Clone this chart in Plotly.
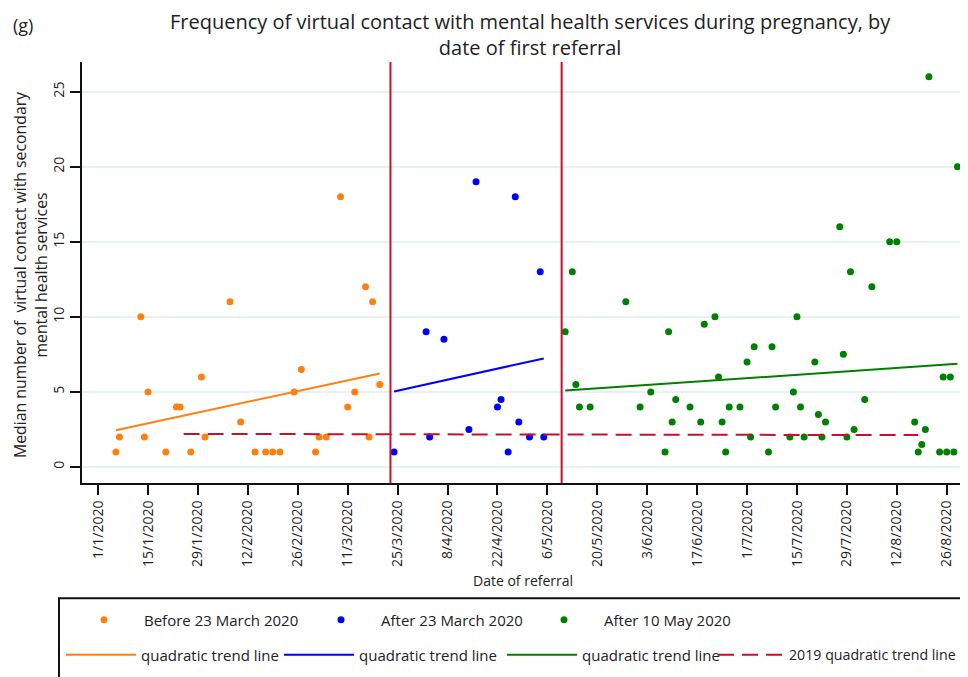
import plotly.graph_objects as go

# ---------------- data ----------------
orange_dates = ["2020-01-06", "2020-01-07", "2020-01-13", "2020-01-14", "2020-01-15",
                "2020-01-20", "2020-01-23", "2020-01-24", "2020-01-27", "2020-01-30",
                "2020-01-31", "2020-02-07", "2020-02-10", "2020-02-14", "2020-02-17",
                "2020-02-19", "2020-02-21", "2020-02-25", "2020-02-27", "2020-03-02",
                "2020-03-03", "2020-03-05", "2020-03-09", "2020-03-11", "2020-03-13",
                "2020-03-16", "2020-03-17", "2020-03-18", "2020-03-20"]
orange_vals = [1, 2, 10, 2, 5, 1, 4, 4, 1, 6, 2, 11, 3, 1, 1, 1, 1, 5, 6.5, 1,
               2, 2, 18, 4, 5, 12, 2, 11, 5.5]

blue_dates = ["2020-03-24", "2020-04-02", "2020-04-03", "2020-04-07", "2020-04-14",
              "2020-04-16", "2020-04-22", "2020-04-23", "2020-04-25", "2020-04-27",
              "2020-04-28", "2020-05-01", "2020-05-04", "2020-05-05"]
blue_vals = [1, 9, 2, 8.5, 2.5, 19, 4, 4.5, 1, 18, 3, 2, 13, 2]

green_dates = ["2020-05-11", "2020-05-13", "2020-05-14", "2020-05-15", "2020-05-18",
               "2020-05-28", "2020-06-01", "2020-06-04", "2020-06-08", "2020-06-09",
               "2020-06-10", "2020-06-11", "2020-06-15", "2020-06-18", "2020-06-19",
               "2020-06-22", "2020-06-23", "2020-06-24", "2020-06-25", "2020-06-26",
               "2020-06-29", "2020-07-01", "2020-07-02", "2020-07-03", "2020-07-07",
               "2020-07-08", "2020-07-09", "2020-07-13", "2020-07-14", "2020-07-15",
               "2020-07-16", "2020-07-17", "2020-07-20", "2020-07-21", "2020-07-22",
               "2020-07-23", "2020-07-27", "2020-07-28", "2020-07-29", "2020-07-30",
               "2020-07-31", "2020-08-03", "2020-08-05", "2020-08-10", "2020-08-12",
               "2020-08-17", "2020-08-18", "2020-08-19", "2020-08-20", "2020-08-21",
               "2020-08-24", "2020-08-25", "2020-08-26", "2020-08-27", "2020-08-28",
               "2020-08-29"]
green_vals = [9, 13, 5.5, 4, 4, 11, 4, 5, 1, 9, 3, 4.5, 4, 3, 9.5, 10, 6, 3, 1, 4,
              4, 7, 2, 8, 1, 8, 4, 2, 5, 10, 4, 2, 7, 3.5, 2, 3, 16, 7.5, 2, 13,
              2.5, 4.5, 12, 15, 15, 3, 1, 1.5, 2.5, 26, 1, 6, 1, 6, 1, 20]

orange_trend_dates = ["2020-01-06", "2020-03-20"]
orange_trend_vals = [2.45, 6.23]
blue_trend_dates = ["2020-03-24", "2020-05-05"]
blue_trend_vals = [5.03, 7.23]
green_trend_dates = ["2020-05-11", "2020-08-29"]
green_trend_vals = [5.09, 6.87]
trend2019_dates = ["2020-01-25", "2020-08-18"]
trend2019_vals = [2.2, 2.12]

cutoff_dates = ["2020-03-23", "2020-05-10"]

y_ticks = [0, 5, 10, 15, 20, 25]

# ---------------- styling ----------------
FONT = "Open Sans, DejaVu Sans, sans-serif"
TEXT = "#222222"
ORANGE = "#ff8010"
BLUE = "#0000ff"
GREEN = "#008000"
RED = "#c8102e"

OFF = 8  # page body margin
W, H = 960, 669
ML, MR, MT, MB = 74, 0, 54, 194
PW = W - ML - MR
PH = H - MT - MB


def px_x(px):
    """page x pixel -> paper x"""
    return (px - OFF - ML) / PW


def px_y(py):
    """page y pixel -> paper y"""
    return (H - MB - (py - OFF)) / PH


fig = go.Figure()

fig.add_trace(go.Scatter(x=orange_dates, y=orange_vals, mode="markers",
                         marker=dict(color=ORANGE, size=7),
                         name="Before 23 March 2020", legend="legend"))
fig.add_trace(go.Scatter(x=blue_dates, y=blue_vals, mode="markers",
                         marker=dict(color=BLUE, size=7),
                         name="After 23 March 2020", legend="legend2"))
fig.add_trace(go.Scatter(x=green_dates, y=green_vals, mode="markers",
                         marker=dict(color=GREEN, size=7),
                         name="After 10 May 2020", legend="legend3"))
fig.add_trace(go.Scatter(x=orange_trend_dates, y=orange_trend_vals, mode="lines",
                         line=dict(color=ORANGE, width=2),
                         name="quadratic trend line", legend="legend4"))
fig.add_trace(go.Scatter(x=blue_trend_dates, y=blue_trend_vals, mode="lines",
                         line=dict(color=BLUE, width=2),
                         name="quadratic trend line", legend="legend5"))
fig.add_trace(go.Scatter(x=green_trend_dates, y=green_trend_vals, mode="lines",
                         line=dict(color=GREEN, width=2),
                         name="quadratic trend line", legend="legend6"))
fig.add_trace(go.Scatter(x=trend2019_dates, y=trend2019_vals, mode="lines",
                         line=dict(color=RED, width=2, dash="16px,8px"),
                         name="2019 quadratic trend line", legend="legend7"))

for d in cutoff_dates:
    fig.add_shape(type="line", xref="x", yref="paper", x0=d, x1=d, y0=0, y1=1,
                  line=dict(color=RED, width=2), layer="above")

# legend frame
fig.add_shape(type="rect", xref="paper", yref="paper",
              x0=px_x(59), x1=px_x(1000), y0=px_y(598.3), y1=px_y(720),
              line=dict(color="#111111", width=2), fillcolor="rgba(0,0,0,0)")

legend_pos = {
    "legend": (64, 620, 70, 15), "legend2": (301, 620, 70, 15),
    "legend3": (524, 620, 70, 15),
    "legend4": (61, 655, 70, 15), "legend5": (279, 655, 70, 15),
    "legend6": (502, 655, 70, 15), "legend7": (713, 655, 66, 14.2),
}
legend_layout = {}
for key, (lx, ly, iw, fs) in legend_pos.items():
    legend_layout[key] = dict(x=px_x(lx), y=px_y(ly), xanchor="left", yanchor="middle",
                              orientation="h", itemwidth=iw,
                              bgcolor="rgba(0,0,0,0)", borderwidth=0,
                              font=dict(family=FONT, size=fs, color=TEXT))

fig.update_layout(
    width=W, height=H,
    margin=dict(l=ML, r=MR, t=MT, b=MB, autoexpand=False),
    paper_bgcolor="white", plot_bgcolor="white",
    font=dict(family=FONT, color=TEXT),
    showlegend=True,
    **legend_layout,
)

fig.update_xaxes(
    type="date",
    range=["2019-12-27 12:00", "2020-08-31 23:00"],
    tick0="2020-01-01", dtick=14 * 86400000,
    tickformat="%-d/%-m/%Y", tickangle=-90,
    ticks="outside", ticklen=10, tickwidth=2, tickcolor="#111111",
    showline=True, linewidth=2, linecolor="#111111",
    showgrid=False, zeroline=False,
    tickfont=dict(family=FONT, size=14, color=TEXT),
)
fig.update_yaxes(
    range=[-1.07, 26.98],
    tickvals=y_ticks, tickangle=-90,
    ticks="outside", ticklen=10, tickwidth=2, tickcolor="#111111",
    showline=True, linewidth=2, linecolor="#111111",
    showgrid=True, gridcolor="#e8f0f2", gridwidth=1.5,
    zeroline=False,
    tickfont=dict(family=FONT, size=14, color=TEXT),
)

fig.add_annotation(text="Frequency of virtual contact with mental health services during pregnancy, by<br>date of first referral",
                   xref="paper", yref="paper", x=px_x(530), y=px_y(34),
                   xanchor="center", yanchor="middle", showarrow=False,
                   font=dict(family=FONT, size=20, color=TEXT))
fig.add_annotation(text="(g)", xref="paper", yref="paper", x=px_x(11), y=px_y(25),
                   xanchor="left", yanchor="middle", showarrow=False,
                   font=dict(family=FONT, size=18, color=TEXT))
fig.add_annotation(text="Median number of\u00a0 virtual contact with secondary<br>mental health services",
                   xref="paper", yref="paper", x=px_x(30), y=px_y(275),
                   xanchor="center", yanchor="middle", textangle=-90, showarrow=False,
                   font=dict(family=FONT, size=15.8, color=TEXT))
fig.add_annotation(text="Date of referral", xref="paper", yref="paper",
                   x=px_x(523), y=px_y(580), xanchor="center", yanchor="middle",
                   showarrow=False, font=dict(family=FONT, size=14, color=TEXT))

fig.write_html("out.html")
